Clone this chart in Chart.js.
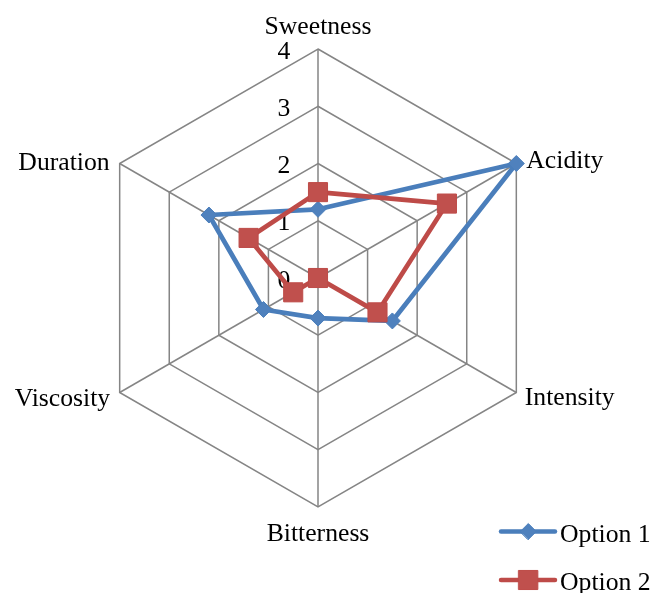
<!DOCTYPE html>
<html>
<head>
<meta charset="utf-8">
<script src="https://cdn.jsdelivr.net/npm/chart.js@4/dist/chart.umd.min.js"></script>
<style>
  html, body { margin: 0; padding: 0; background: #ffffff; }
  canvas { display: block; }
</style>
</head>
<body>
<canvas id="chart" width="655" height="593"></canvas>
<script>
// Tasting profile of two options
const categories = ['Sweetness', 'Acidity', 'Intensity', 'Bitterness', 'Viscosity', 'Duration'];
const option1 = [1.2, 4, 1.5, 0.7, 1.1, 2.2];
const option2 = [1.5, 2.6, 1.2, 0, 0.5, 1.4];
const tickLabels = ['0', '1', '2', '3', '4'];
const seriesNames = ['Option 1', 'Option 2'];

const FONT = '25.7px "Liberation Serif", "Times New Roman", serif';
const GRID = '#858585';

// where each category label sits relative to its outer vertex
const labelPlacement = [
  { dx: 0,    dy: -14.7, align: 'center' },
  { dx: 10,   dy: 4,     align: 'left' },
  { dx: 8.5,  dy: 12.7,  align: 'left' },
  { dx: 0,    dy: 33.7,  align: 'center' },
  { dx: -9.5, dy: 13,    align: 'right' },
  { dx: -10,  dy: 6.5,   align: 'right' }
];

const radarText = {
  id: 'radarText',
  beforeDatasetsDraw(chart) {
    const r = chart.scales.r;
    const ctx = chart.ctx;
    ctx.save();
    ctx.font = FONT;
    ctx.fillStyle = '#000';
    ctx.textAlign = 'center';
    ctx.textBaseline = 'middle';
    tickLabels.forEach(t => {
      const d = r.getDistanceFromCenterForValue(Number(t));
      ctx.fillText(t, r.xCenter - 34, r.yCenter - d + 3);
    });
    ctx.restore();
  },
  afterDraw(chart) {
    const r = chart.scales.r;
    const ctx = chart.ctx;
    ctx.save();
    ctx.font = FONT;
    ctx.fillStyle = '#000';
    ctx.textBaseline = 'alphabetic';
    categories.forEach((c, i) => {
      const p = r.getPointPosition(i, r.drawingArea);
      const pl = labelPlacement[i];
      ctx.textAlign = pl.align;
      ctx.fillText(c, p.x + pl.dx, p.y + pl.dy);
    });

    // legend: one row per series, stacked at the bottom right
    chart.data.datasets.forEach((ds, i) => {
      const y = 531.5 + i * 48.5;
      ctx.strokeStyle = ds.borderColor;
      ctx.lineWidth = 4.5;
      ctx.lineCap = 'round';
      ctx.beginPath();
      ctx.moveTo(501, y);
      ctx.lineTo(555, y);
      ctx.stroke();
      ctx.fillStyle = ds.pointBackgroundColor;
      ctx.strokeStyle = ds.pointBorderColor;
      ctx.lineWidth = ds.pointBorderWidth;
      Chart.helpers.drawPoint(ctx, {
        pointStyle: ds.pointStyle,
        radius: ds.pointRadius,
        borderWidth: ds.pointBorderWidth,
        rotation: 0
      }, 528.3, y);
      ctx.fillStyle = '#000';
      ctx.textAlign = 'left';
      ctx.fillText(ds.label, 560, y + 10);
    });
    ctx.restore();
  }
};

new Chart(document.getElementById('chart'), {
  type: 'radar',
  data: {
    labels: categories,
    datasets: [
      {
        label: seriesNames[0],
        data: option1,
        borderColor: '#4A7EBB',
        backgroundColor: 'transparent',
        borderWidth: 4.7,
        borderJoinStyle: 'round',
        fill: false,
        pointStyle: 'rectRot',
        pointRadius: 8,
        pointBackgroundColor: '#4F81BD',
        pointBorderColor: '#4A7EBB',
        pointBorderWidth: 1,
        clip: false,
        order: 1
      },
      {
        label: seriesNames[1],
        data: option2,
        borderColor: '#BE4B48',
        backgroundColor: 'transparent',
        borderWidth: 4.7,
        borderJoinStyle: 'round',
        fill: false,
        pointStyle: 'rect',
        pointRadius: 13.5,
        pointBackgroundColor: '#C0504D',
        pointBorderColor: '#BE4B48',
        pointBorderWidth: 1,
        clip: false,
        order: 0
      }
    ]
  },
  options: {
    responsive: false,
    devicePixelRatio: 1,
    animation: false,
    events: [],
    layout: { padding: { left: 89, right: 108, top: 49, bottom: 86 } },
    plugins: {
      legend: { display: false },
      tooltip: { enabled: false },
      title: { display: false }
    },
    scales: {
      r: {
        min: 0,
        max: 4,
        startAngle: 0,
        ticks: { display: false, stepSize: 1 },
        pointLabels: { display: false },
        grid: { color: GRID, lineWidth: 1.5 },
        angleLines: { color: GRID, lineWidth: 1.5 }
      }
    }
  },
  plugins: [radarText]
});
</script>
</body>
</html>
